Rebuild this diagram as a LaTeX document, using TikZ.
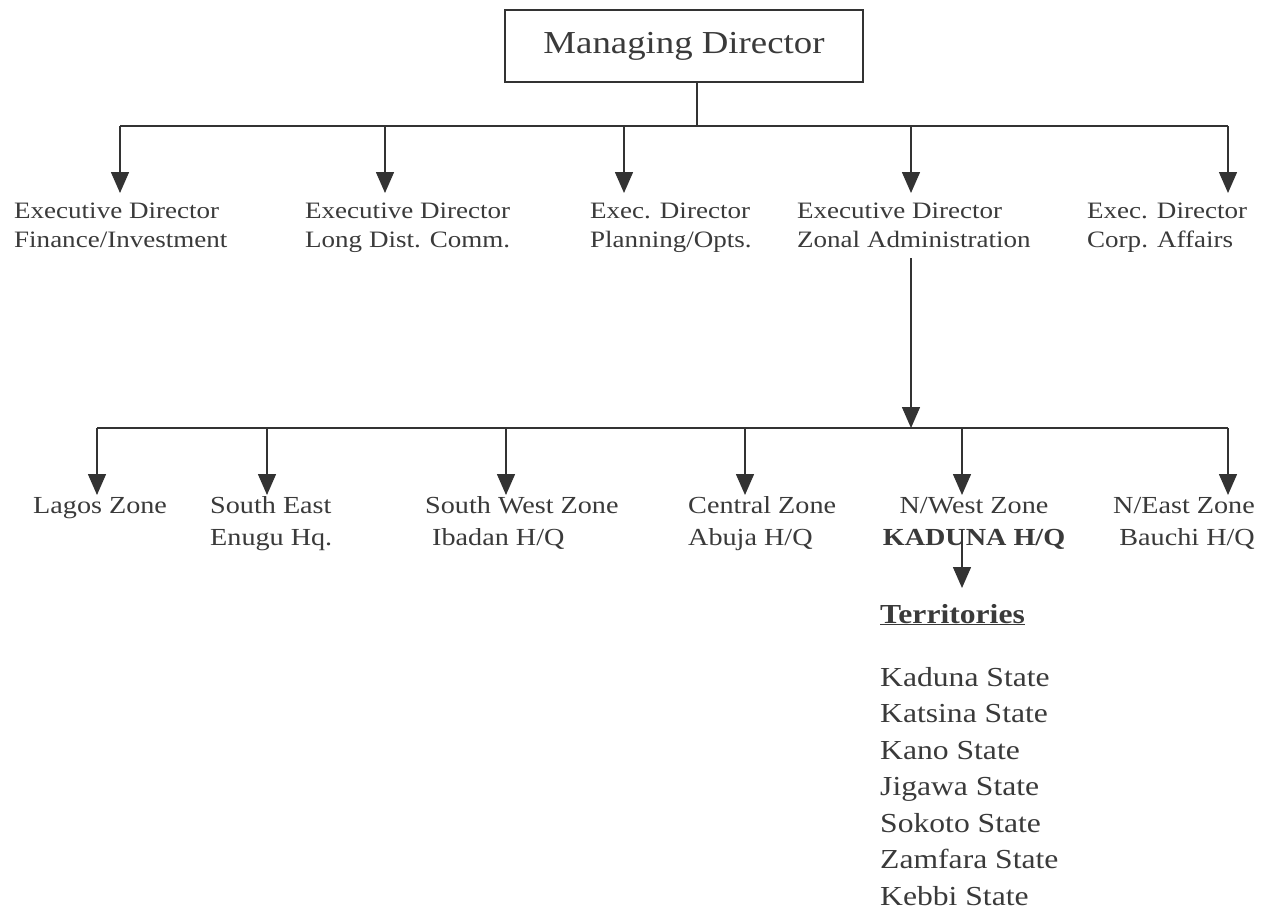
\documentclass[tikz,border=0pt]{standalone}
\usepackage{fontspec}
\setmainfont{Liberation Serif}[FakeStretch=1.15]
\usetikzlibrary{arrows.meta}
\definecolor{ink}{HTML}{333333}
\definecolor{txt}{HTML}{3A3A3A}

\begin{document}
\begin{tikzpicture}[x=1pt,y=-1pt,
  wire/.style={draw=ink,line width=1.5pt},
  feed/.style={wire,-{Triangle[width=18pt,length=21pt]}},
  lbl/.style={inner sep=0pt,text=txt},
  rowone/.style={lbl,anchor=base west,align=left,font=\fontsize{23.5}{29}\selectfont},
  rowtwo/.style={lbl,anchor=base west,align=left,font=\fontsize{24.5}{32}\selectfont},
  terr/.style={lbl,anchor=base west,align=left,font=\fontsize{27.5}{36.5}\selectfont}]

\useasboundingbox[fill=white] (0,0) rectangle (1264,914);

% top box
\node[draw=ink,line width=1.5pt,minimum width=358pt,minimum height=72pt,inner sep=0pt,
      text=txt,font=\fontsize{32}{36}\selectfont] (md) at (684,46) {Managing Director};

% executive directors (anchored on the baseline of the last line)
\node[rowone] (ed1) at (14,247)   {Executive Director\\Finance/Investment};
\node[rowone] (ed2) at (305,247)  {Executive Director\\Long Dist. Comm.};
\node[rowone] (ed3) at (590,247)  {Exec. Director\\Planning/Opts.};
\node[rowone] (ed4) at (797,247)  {Executive Director\\Zonal Administration};
\node[rowone] (ed5) at (1087,247) {Exec. Director\\Corp. Affairs};

% zones
\node[rowtwo] (z1) at (33,513)  {Lagos Zone};
\node[rowtwo] (z2) at (210,545) {South East\\Enugu Hq.};
\node[rowtwo] (z3) at (425,545) {South West Zone\\\hspace{7pt}Ibadan H/Q};
\node[rowtwo] (z4) at (688,545) {Central Zone\\Abuja H/Q};
\node[rowtwo,anchor=base,align=center] (z5) at (974,545) {N/West Zone\\\textbf{KADUNA H/Q}};
\node[rowtwo,anchor=base east,align=right] (z6) at (1255,545) {N/East Zone\\Bauchi H/Q};

% territories
\node[terr] (tt) at (880,623) {\textbf{\underline{Territories}}};
\node[terr] (tl) at (880,905) {Kaduna State\\Katsina State\\Kano State\\Jigawa State\\Sokoto State\\Zamfara State\\Kebbi State};

% first level connectors
\coordinate (j0) at (697,126);
\coordinate (b1) at (120,126);
\coordinate (b2) at (385,126);
\coordinate (b3) at (624,126);
\coordinate (b4) at (911,126);
\coordinate (b5) at (1228,126);
\draw[wire] (md.south -| j0) -- (j0);
\draw[wire] (b1) -- (b5);
\draw[feed] (b1) -- (b1 |- 0,193);
\draw[feed] (b2) -- (b2 |- 0,193);
\draw[feed] (b3) -- (b3 |- 0,193);
\draw[feed] (b4) -- (b4 |- 0,193);
\draw[feed] (b5) -- (b5 |- 0,193);

% zonal feed
\coordinate (zs) at (911,258);
\coordinate (c1) at (97,428);
\coordinate (c2) at (267,428);
\coordinate (c3) at (506,428);
\coordinate (c4) at (745,428);
\coordinate (c5) at (962,428);
\coordinate (c6) at (1228,428);
\draw[wire] (c1) -- (c6);
\draw[feed] (zs) -- (zs |- c1);
\draw[feed] (c1) -- (c1 |- 0,495);
\draw[feed] (c2) -- (c2 |- 0,495);
\draw[feed] (c3) -- (c3 |- 0,495);
\draw[feed] (c4) -- (c4 |- 0,495);
\draw[feed] (c5) -- (c5 |- 0,495);
\draw[feed] (c6) -- (c6 |- 0,495);

% territories feed
\coordinate (ks) at (962,530);
\draw[feed] (ks) -- (ks |- 0,588);
\end{tikzpicture}
\end{document}
